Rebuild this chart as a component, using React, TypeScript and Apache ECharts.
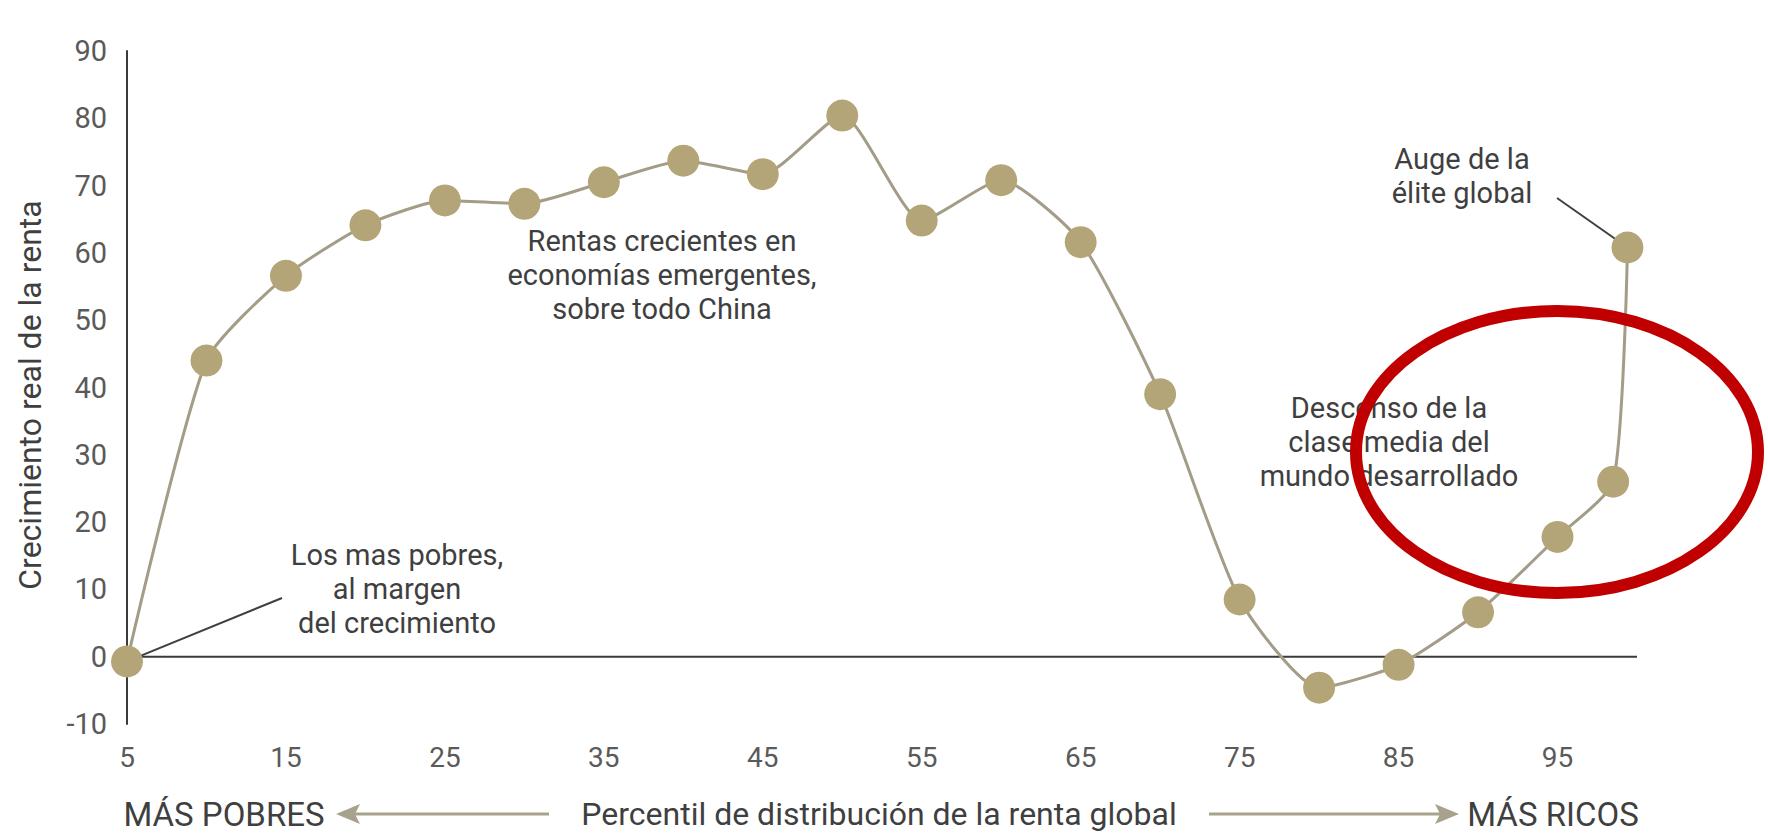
import React, { useEffect, useRef } from "react";
import * as echarts from "echarts";

// ---- data ----
const percentiles = [5, 10, 15, 20, 25, 30, 35, 40, 45, 50, 55, 60, 65, 70, 75, 80, 85, 90, 95, 98.5, 99.4];
const growth = [-0.7, 44, 56.6, 64.1, 67.8, 67.3, 70.5, 73.7, 71.7, 80.4, 64.8, 70.8, 61.6, 39, 8.5, -4.6, -1.2, 6.6, 17.8, 26, 60.8];
const xTickLabels = [5, 15, 25, 35, 45, 55, 65, 75, 85, 95];
const yMin = -10;
const yMax = 90;
const yStep = 10;
const xMin = 5;
const xMax = 100;

const yTitle = "Crecimiento real de la renta";
const xTitle = "Percentil de distribución de la renta global";
const leftLabel = "MÁS POBRES";
const rightLabel = "MÁS RICOS";
const noteEmerging = "Rentas crecientes en\neconomías emergentes,\nsobre todo China";
const notePoor = "Los mas pobres,\nal margen\ndel crecimiento";
const noteElite = "Auge de la\nélite global";
const noteMiddle = "Descenso de la\nclase media del\nmundo desarrollado";

const FONT = "Roboto, 'Noto Sans', 'DejaVu Sans', sans-serif";
const TEXT = "#3f3f3f";
const TICK = "#5a5a5a";
const LINE = "#a39c87";
const DOT = "#b3a577";
const ARROW = "#a8a28c";

export default function App() {
  const ref = useRef<HTMLDivElement>(null);

  useEffect(() => {
    document.body.style.margin = "0";
    const chart = echarts.init(ref.current!, null, { renderer: "svg", width: 1768, height: 837 });

    const option: any = {
      animation: false,
      backgroundColor: "#ffffff",
      grid: { left: 127, right: 131, top: 51, bottom: 113, outerBoundsMode: "none" },
      xAxis: {
        type: "value",
        min: xMin,
        max: xMax,
        interval: 5,
        axisLine: { show: false, onZero: false },
        axisTick: { show: false },
        splitLine: { show: false },
        axisLabel: {
          margin: 19,
          fontSize: 28,
          color: TICK,
          fontFamily: FONT,
          formatter: (v: number) => (xTickLabels.includes(v) ? String(v) : ""),
        },
      },
      yAxis: {
        type: "value",
        min: yMin,
        max: yMax,
        interval: yStep,
        axisLine: { show: true, onZero: false, lineStyle: { color: "#3a3a3a", width: 2 } },
        axisTick: { show: false },
        splitLine: { show: false },
        axisLabel: { margin: 20, fontSize: 29, color: TICK, fontFamily: FONT },
      },
      series: [
        {
          type: "line",
          data: percentiles.map((p, i) => [p, growth[i]]),
          smooth: 0.2,
          symbol: "circle",
          symbolSize: 32,
          lineStyle: { color: LINE, width: 3 },
          itemStyle: { color: DOT },
          z: 5,
        },
      ],
    };
    chart.setOption(option);

    const px = (x: number, y: number) => chart.convertToPixel({ gridIndex: 0 }, [x, y]) as number[];
    const zeroL = px(xMin, 0);
    const zeroR = px(xMax, 0);
    const first = px(percentiles[0], growth[0]);
    const last = px(percentiles[percentiles.length - 1], growth[growth.length - 1]);

    const txt = (text: string, x: number, y: number, size: number, lh: number, extra: any = {}) => ({
      type: "text",
      x,
      y,
      z: 10,
      style: {
        text,
        fill: TEXT,
        fontSize: size,
        fontFamily: FONT,
        lineHeight: lh,
        align: "center",
        verticalAlign: "middle",
      },
      ...extra,
    });

    chart.setOption({
      graphic: [
        // zero line
        { type: "line", z: 1, shape: { x1: zeroL[0], y1: zeroL[1], x2: zeroR[0], y2: zeroR[1] }, style: { stroke: "#3a3a3a", lineWidth: 2 } },
        // leader lines
        { type: "line", z: 1, shape: { x1: first[0], y1: first[1], x2: 282, y2: 598 }, style: { stroke: "#3f3f3f", lineWidth: 2 } },
        { type: "line", z: 1, shape: { x1: 1557, y1: 198, x2: last[0], y2: last[1] }, style: { stroke: "#3f3f3f", lineWidth: 2 } },
        // annotations
        txt(noteEmerging, 662, 275, 29, 34),
        txt(notePoor, 397, 589, 29, 34),
        txt(noteElite, 1462, 176, 29, 34),
        txt(noteMiddle, 1389, 442, 29, 34),
        // y title
        txt(yTitle, 30, 395, 32, 32, { rotation: Math.PI / 2 }),
        // bottom row
        txt(leftLabel, 224, 814, 33, 33),
        txt(xTitle, 879, 814, 32, 32),
        txt(rightLabel, 1553, 814, 33, 33),
        { type: "line", z: 1, shape: { x1: 350, y1: 814, x2: 549, y2: 814 }, style: { stroke: ARROW, lineWidth: 3 } },
        { type: "polygon", z: 1, shape: { points: [[336, 814], [360, 804], [355, 814], [360, 824]] }, style: { fill: ARROW } },
        { type: "line", z: 1, shape: { x1: 1209, y1: 814, x2: 1445, y2: 814 }, style: { stroke: ARROW, lineWidth: 3 } },
        { type: "polygon", z: 1, shape: { points: [[1459, 814], [1435, 804], [1440, 814], [1435, 824]] }, style: { fill: ARROW } },
        // red highlight ellipse
        { type: "ellipse", z: 100, shape: { cx: 1557, cy: 452, rx: 201, ry: 141 }, style: { fill: "rgba(0,0,0,0)", stroke: "#c00000", lineWidth: 12 } },
      ],
    });

    return () => chart.dispose();
  }, []);

  return <div ref={ref} style={{ width: 1768, height: 837 }} />;
}
